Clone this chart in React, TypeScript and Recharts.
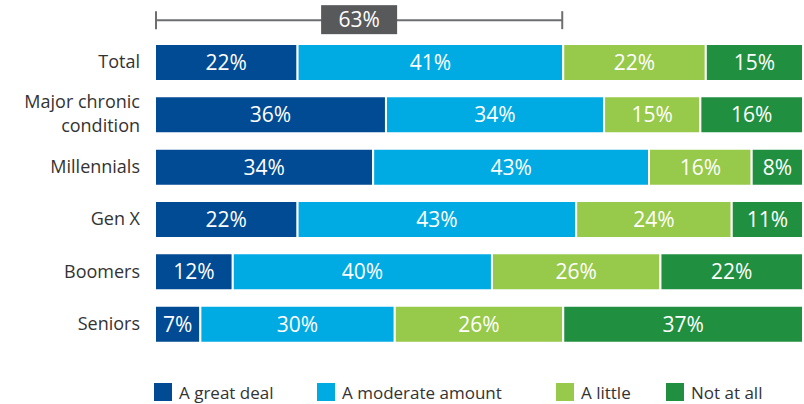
import { BarChart, Bar, XAxis, YAxis, LabelList, ReferenceLine } from 'recharts'

// 类别与系列
const categories = ['Total', 'Major chronic condition', 'Millennials', 'Gen X', 'Boomers', 'Seniors']
const greatDeal = [22, 36, 34, 22, 12, 7]
const moderate = [41, 34, 43, 43, 40, 30]
const little = [22, 15, 16, 24, 26, 26]
const notAtAll = [15, 16, 8, 11, 22, 37]

const seriesNames = ['A great deal', 'A moderate amount', 'A little', 'Not at all']
const seriesKeys = ['greatDeal', 'moderate', 'little', 'notAtAll']

const COLORS = ['#004b93', '#00abe3', '#97c94a', '#209040']
const FONT = '"Open Sans", "Noto Sans", sans-serif'
const LEGEND_LEFT = [154, 317, 556, 666]

const data = categories.map((name, i) => ({
  name,
  greatDeal: greatDeal[i],
  moderate: moderate[i],
  little: little[i],
  notAtAll: notAtAll[i]
}))

// 总体中"很多 + 适中"的合计
const totalTop = greatDeal[0] + moderate[0]
const totalSum = greatDeal[0] + moderate[0] + little[0] + notAtAll[0]

function CategoryTick({ x, y, payload }: any) {
  const words = payload.value === 'Major chronic condition' ? ['Major chronic', 'condition'] : [payload.value]
  return (
    <text x={x} y={y} textAnchor="end" fill="#333" fontSize={18} fontFamily={FONT}>
      {words.length === 1 ? (
        <tspan x={x} dy={6}>{words[0]}</tspan>
      ) : (
        <>
          <tspan x={x} dy={-7}>{words[0]}</tspan>
          <tspan x={x} dy={24}>{words[1]}</tspan>
        </>
      )}
    </text>
  )
}

function Bracket(props: any) {
  const { x1, x2, y1 } = props
  const y = y1 - 42
  const mid = (x1 + x2) / 2
  return (
    <g>
      <line x1={x1 + 1} y1={y} x2={x2 - 1} y2={y} stroke="#6d6e70" strokeWidth={2} />
      <line x1={x1 + 1} y1={y - 9} x2={x1 + 1} y2={y + 9} stroke="#6d6e70" strokeWidth={2} />
      <line x1={x2 - 1} y1={y - 9} x2={x2 - 1} y2={y + 9} stroke="#6d6e70" strokeWidth={2} />
      <rect x={mid - 38} y={y - 15} width={76} height={29} fill="#58595b" />
      <text x={mid} y={y + 7} textAnchor="middle" fill="#fff" fontSize={21} fontFamily={FONT}>
        {`${totalTop}%`}
      </text>
    </g>
  )
}

export default function App() {
  return (
    <div style={{ position: 'absolute', left: 0, top: 0, width: 804, height: 404, background: '#fff', fontFamily: FONT, overflow: 'hidden' }}>
      <BarChart
        width={804}
        height={404}
        data={data}
        layout="vertical"
        stackOffset="expand"
        margin={{ top: 36, right: 1, left: 0, bottom: 54 }}
        barSize={37}
      >
        <XAxis type="number" domain={[0, 1]} hide />
        <YAxis
          type="category"
          dataKey="name"
          width={155}
          axisLine={false}
          tickLine={false}
          tickMargin={9}
          tick={<CategoryTick />}
          interval={0}
        />
        {seriesKeys.map((key, i) => (
          <Bar key={key} dataKey={key} stackId="a" fill={COLORS[i]} stroke="#fff" strokeWidth={2} isAnimationActive={false}>
            <LabelList
              dataKey={key}
              position="center"
              fill="#fff"
              fontSize={21}
              fontFamily={FONT}
              formatter={(v: any) => `${v}%`}
            />
          </Bar>
        ))}
        <ReferenceLine
          segment={[{ x: 0, y: 'Total' }, { x: totalTop / totalSum, y: 'Total' }]}
          ifOverflow="visible"
          shape={(p: any) => <Bracket {...p} />}
        />
      </BarChart>
      {seriesNames.map((name, i) => (
        <div key={name} style={{ position: 'absolute', left: LEGEND_LEFT[i], top: 383, display: 'flex', alignItems: 'flex-start' }}>
          <div style={{ width: 18, height: 18, background: COLORS[i] }} />
          <span style={{ marginLeft: 7, fontSize: 17, color: '#333', lineHeight: '22px', marginTop: -1, whiteSpace: 'nowrap' }}>{name}</span>
        </div>
      ))}
    </div>
  )
}
